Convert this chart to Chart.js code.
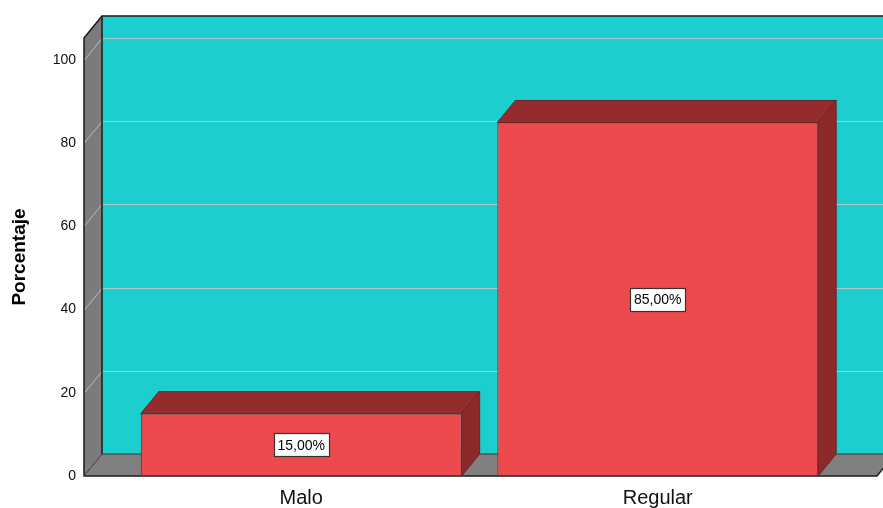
<!DOCTYPE html>
<html>
<head>
<meta charset="utf-8">
<script src="https://cdn.jsdelivr.net/npm/chart.js@4/dist/chart.umd.min.js"></script>
<style>
  html, body { margin: 0; padding: 0; background: #fff; }
  #wrap { width: 883px; height: 508px; position: relative; }
</style>
</head>
<body>
<div id="wrap"><canvas id="chart"></canvas></div>
<script>
const categories = ["Malo", "Regular"];
const percentages = [15, 85];
const yTicks = [0, 20, 40, 60, 80, 100];

// depth of the 3D box (back plane offset)
const DX = 18, DY = 22;
const FONT = "'Liberation Sans', Arial, sans-serif";

const box3d = {
    id: "box3d",
    beforeDatasetsDraw(chart) {
        const { ctx, chartArea: a, scales: { y } } = chart;
        const fl = a.left - 39, fr = a.right + 41;
        const top = a.top, bot = a.bottom;
        ctx.save();
        // back wall
        ctx.fillStyle = "#1dcece";
        ctx.fillRect(fl + DX, top - DY, fr - fl + 20, bot - top);
        // left wall
        ctx.fillStyle = "#7b7b7b";
        ctx.beginPath();
        ctx.moveTo(fl, bot);
        ctx.lineTo(fl, top);
        ctx.lineTo(fl + DX, top - DY);
        ctx.lineTo(fl + DX, bot - DY);
        ctx.closePath();
        ctx.fill();
        // floor
        ctx.fillStyle = "#808080";
        ctx.beginPath();
        ctx.moveTo(fl, bot);
        ctx.lineTo(fl + DX, bot - DY);
        ctx.lineTo(fr + DX, bot - DY);
        ctx.lineTo(fr, bot);
        ctx.closePath();
        ctx.fill();
        // grid lines
        ctx.strokeStyle = "rgba(200,200,200,0.85)";
        ctx.lineWidth = 1;
        yTicks.forEach(v => {
            if (v === 0) return;
            const py = Math.round(y.getPixelForValue(v)) + 0.5;
            ctx.beginPath();
            ctx.moveTo(fl, py);
            ctx.lineTo(fl + DX, py - DY);
            ctx.lineTo(fr + DX + 20, py - DY);
            ctx.stroke();
        });
        // edges
        ctx.strokeStyle = "#1a1a1a";
        ctx.lineWidth = 1.5;
        ctx.beginPath();
        ctx.moveTo(fl + DX, bot - DY);
        ctx.lineTo(fl + DX, top - DY);
        ctx.lineTo(fr + DX + 20, top - DY);
        ctx.stroke();
        ctx.beginPath();
        ctx.moveTo(fl + DX, top - DY);
        ctx.lineTo(fl, top);
        ctx.lineTo(fl, bot);
        ctx.lineTo(fr, bot);
        ctx.lineTo(fr + DX, bot - DY);
        ctx.stroke();
        ctx.strokeStyle = "#3a3a3a";
        ctx.lineWidth = 1;
        ctx.beginPath();
        ctx.moveTo(fl, bot);
        ctx.lineTo(fl + DX, bot - DY);
        ctx.lineTo(fr + DX + 20, bot - DY);
        ctx.stroke();
        ctx.restore();
    },
    afterDatasetsDraw(chart) {
        const { ctx } = chart;
        const meta = chart.getDatasetMeta(0);
        ctx.save();
        meta.data.forEach((bar, i) => {
            const { x, y, base, width } = bar.getProps(["x", "y", "base", "width"], true);
            const l = x - width / 2, r = x + width / 2;
            ctx.strokeStyle = "#6e2424";
            ctx.lineWidth = 1;
            // top face
            ctx.fillStyle = "#942c2e";
            ctx.beginPath();
            ctx.moveTo(l, y);
            ctx.lineTo(l + DX, y - DY);
            ctx.lineTo(r + DX, y - DY);
            ctx.lineTo(r, y);
            ctx.closePath();
            ctx.fill();
            ctx.stroke();
            // side face
            ctx.fillStyle = "#8c2a2b";
            ctx.beginPath();
            ctx.moveTo(r, y);
            ctx.lineTo(r + DX, y - DY);
            ctx.lineTo(r + DX, base - DY);
            ctx.lineTo(r, base);
            ctx.closePath();
            ctx.fill();
            ctx.stroke();
            // value label
            const txt = percentages[i].toFixed(2).replace(".", ",") + "%";
            ctx.font = "14px " + FONT;
            const tw = ctx.measureText(txt).width;
            const cy = (y + base) / 2;
            const bw = Math.round(tw + 8), bh = 23;
            const bx = Math.round(x - bw / 2) + 0.5, by = Math.round(cy - bh / 2) + 0.5;
            ctx.fillStyle = "#ffffff";
            ctx.fillRect(bx, by, bw, bh);
            ctx.strokeStyle = "#333";
            ctx.lineWidth = 1.2;
            ctx.strokeRect(bx, by, bw, bh);
            ctx.fillStyle = "#000";
            ctx.textAlign = "center";
            ctx.textBaseline = "middle";
            ctx.fillText(txt, x, cy + 1);
        });
        ctx.restore();
    }
};

new Chart(document.getElementById("chart"), {
    type: "bar",
    data: {
        labels: categories,
        datasets: [{
            data: percentages,
            backgroundColor: "#ec4a4c",
            borderColor: "#7a2828",
            borderWidth: 1,
            borderSkipped: false,
            categoryPercentage: 1,
            barPercentage: 0.9
        }]
    },
    options: {
        responsive: true,
        maintainAspectRatio: false,
        animation: false,
        layout: { padding: { top: 38, right: 47, left: 0, bottom: 0 } },
        plugins: {
            legend: { display: false },
            tooltip: { enabled: false }
        },
        scales: {
            x: {
                grid: { display: false },
                border: { display: false },
                ticks: {
                    color: "#111",
                    padding: 2,
                    maxRotation: 0,
                    minRotation: 0,
                    font: { family: FONT, size: 20 }
                },
                afterFit(scale) { scale.height = 32; }
            },
            y: {
                min: 0,
                max: 105.3,
                grid: { display: false },
                border: { display: false },
                afterBuildTicks(scale) {
                    scale.ticks = yTicks.map(v => ({ value: v }));
                },
                ticks: {
                    color: "#111",
                    padding: 39,
                    font: { family: FONT, size: 14 }
                },
                title: {
                    display: true,
                    text: "Porcentaje",
                    color: "#000",
                    padding: { top: 8, bottom: 0 },
                    font: { family: FONT, size: 19, weight: "bold" }
                },
                afterFit(scale) {
                    scale.width = 123;
                    scale.paddingTop = 0;
                    scale.paddingBottom = 0;
                }
            }
        }
    },
    plugins: [box3d]
});
</script>
</body>
</html>
